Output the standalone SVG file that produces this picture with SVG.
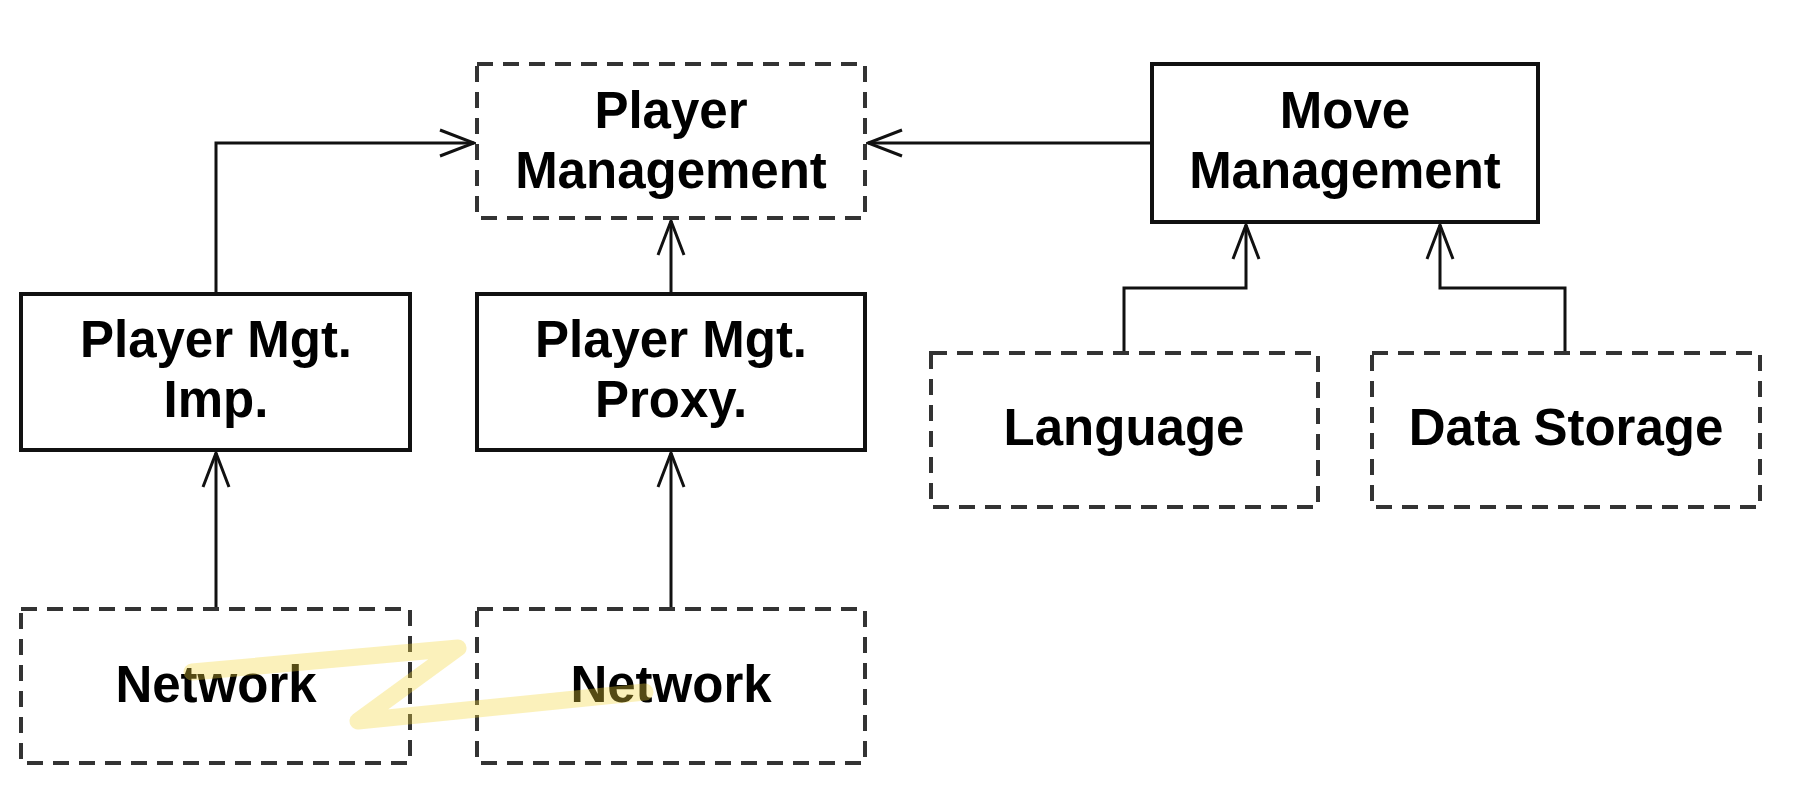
<svg xmlns="http://www.w3.org/2000/svg" width="1802" height="794" viewBox="0 0 1802 794">
  <style>
    .solid { fill: #ffffff; stroke: #111111; stroke-width: 4; }
    .dashed { fill: #ffffff; stroke: #333333; stroke-width: 4; stroke-dasharray: 16 10; }
    .label { font-family: "Liberation Sans", Arial, sans-serif; font-weight: bold; font-size: 51px; fill: #000000; text-anchor: middle; }
    .conn { fill: none; stroke: #111111; stroke-width: 3; }
  </style>
  <defs>
    <marker id="open" markerUnits="userSpaceOnUse" viewBox="-38 -16 40 32" refX="0" refY="0" markerWidth="40" markerHeight="32" orient="auto">
      <path d="M-34,-13 L0,0 L-34,13" fill="none" stroke="#111111" stroke-width="3"/>
    </marker>
  </defs>
  <rect width="1802" height="794" fill="#ffffff"/>

  <g id="connectors">
    <path class="conn" d="M216 294 V143 H474" marker-end="url(#open)"/>
    <path class="conn" d="M671 294 V221" marker-end="url(#open)"/>
    <path class="conn" d="M1152 143 H868" marker-end="url(#open)"/>
    <path class="conn" d="M216 609 V453" marker-end="url(#open)"/>
    <path class="conn" d="M671 609 V453" marker-end="url(#open)"/>
    <path class="conn" d="M1124 353 V288 H1246 V225" marker-end="url(#open)"/>
    <path class="conn" d="M1565 353 V288 H1440 V225" marker-end="url(#open)"/>
  </g>

  <g id="player-management">
    <rect class="dashed" x="477" y="64" width="388" height="154"/>
    <text class="label" x="671" y="128">Player</text>
    <text class="label" x="671" y="188">Management</text>
  </g>
  <g id="move-management">
    <rect class="solid" x="1152" y="64" width="386" height="158"/>
    <text class="label" x="1345" y="128">Move</text>
    <text class="label" x="1345" y="188">Management</text>
  </g>
  <g id="player-mgt-imp">
    <rect class="solid" x="21" y="294" width="389" height="156"/>
    <text class="label" x="216" y="357">Player Mgt.</text>
    <text class="label" x="216" y="417">Imp.</text>
  </g>
  <g id="player-mgt-proxy">
    <rect class="solid" x="477" y="294" width="388" height="156"/>
    <text class="label" x="671" y="357">Player Mgt.</text>
    <text class="label" x="671" y="417">Proxy.</text>
  </g>
  <g id="language">
    <rect class="dashed" x="931" y="353" width="387" height="154"/>
    <text class="label" x="1124" y="445">Language</text>
  </g>
  <g id="data-storage">
    <rect class="dashed" x="1372" y="353" width="388" height="154"/>
    <text class="label" x="1566" y="445">Data Storage</text>
  </g>
  <g id="network-1">
    <rect class="dashed" x="21" y="609" width="389" height="154"/>
    <text class="label" x="216" y="702">Network</text>
  </g>
  <g id="network-2">
    <rect class="dashed" x="477" y="609" width="388" height="154"/>
    <text class="label" x="671" y="702">Network</text>
  </g>

  <path d="M192 672 L458 648 L358 721 L645 692" fill="none" stroke="#f4d73d" stroke-opacity="0.35" stroke-width="17" stroke-linejoin="round" stroke-linecap="round"/>
</svg>
